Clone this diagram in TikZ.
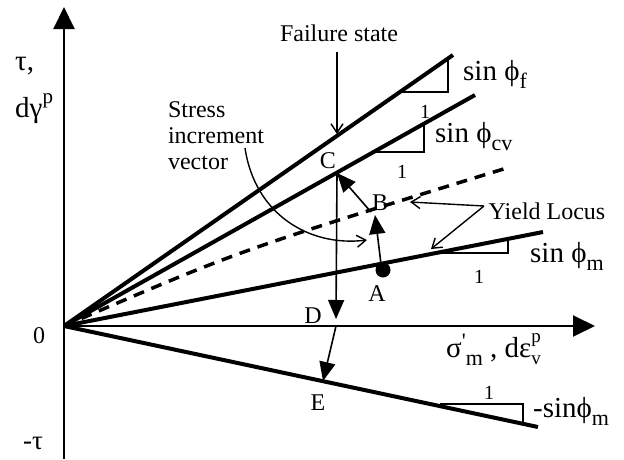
\documentclass[tikz,border=0pt]{standalone}
\usepackage{fontspec}
\setmainfont{Liberation Serif}
\usetikzlibrary{arrows.meta}
\newcommand{\fs}[1]{\fontsize{#1}{#1}\selectfont}
\newcommand{\lowsub}[1]{\raisebox{-0.28em}{\fs{22}#1}}
\begin{document}
\begin{tikzpicture}[x=1pt,y=-1pt,
  heavy/.style={line width=4pt},
  axisline/.style={line width=2pt,-{Triangle[width=21pt,length=22pt]}},
  vec/.style={line width=1.6pt,-{Triangle[width=16pt,length=19pt]}},
  leader/.style={line width=1.4pt,-{Straight Barb[width=12pt,length=9pt,line width=1.4pt]}},
  slope/.style={line width=1.5pt},
  lbl/.style={inner sep=0pt,font=\fs{24}},
  big/.style={inner sep=0pt,font=\fs{29}},
  one/.style={inner sep=0pt,font=\fs{20}}
]
\useasboundingbox (0,0) rectangle (624,459);
% key points
\coordinate (O) at (64,326);
\coordinate (Yb) at (64,459);
\coordinate (Yt) at (64,7);
\coordinate (Xt) at (595,326);
\coordinate (Fend) at (453,55);
\coordinate (CVend) at (475,95);
\coordinate (DLend) at (510,167);
\coordinate (Mend) at (543,232);
\coordinate (Eend) at (538,427);
\coordinate (C) at (337,173);
\coordinate (D) at (336,326);
\coordinate (Dt) at (336,319);
\coordinate (E) at (323,381);
\coordinate (A) at (381,264);
\coordinate (B) at (375,215);
\coordinate (Bs) at (371,212);
% axes
\draw[axisline] (Yb) -- (Yt);
\draw[axisline] (O) -- (Xt);
% lines
\draw[heavy] (O) -- (Fend);
\draw[heavy] (O) -- (CVend);
\draw[heavy] (O) -- (Mend);
\draw[heavy] (O) -- (Eend);
\draw[line width=3.5pt,dash pattern=on 11pt off 8pt] (O) .. controls (240,250) .. (DLend);
% slope triangles
\draw[slope] (400,92) -- (448,92) -- (448,58);
\draw[slope] (373,152) -- (424,152) -- (424,124);
\draw[slope] (437,253) -- (508,253) -- (508,239);
\draw[slope] (440,404) -- (523,404) -- (523,424);
\node[one] (n1) at (425,112) {1};
\node[one] (n2) at (402,172) {1};
\node[one] (n3) at (479,277) {1};
\node[one] (n4) at (489,393) {1};
% vectors
\draw[vec] (C) -- (Dt);
\draw[vec] (D) -- (E);
\draw[vec] (A) -- (B);
\draw[vec] (Bs) -- (C);
\fill (383,270) circle (7.5);
% point labels
\node[lbl] (lC) at (328,161) {C};
\node[lbl] (lB) at (380,203) {B};
\node[lbl] (lA) at (377,294) {A};
\node[lbl] (lD) at (313,316) {D};
\node[lbl] (lE) at (318,403) {E};
% failure state
\node[lbl] (fs) at (339,33) {Failure state};
\coordinate (fsA) at (337,52);
\coordinate (fsB) at (337,134);
\draw[leader] (fsA) -- (fsB);
% yield locus
\node[lbl] (yl) at (547,211) {Yield Locus};
\coordinate (yl0) at (484,206);
\coordinate (yl1) at (410,202);
\coordinate (yl2) at (431,249);
\draw[leader] (yl0) -- (yl1);
\draw[leader] (yl0) -- (yl2);
% stress increment vector
\node[lbl,align=left,font=\fontsize{24}{26}\selectfont] (siv) at (216,136) {Stress\\increment\\vector};
\coordinate (s0) at (245,148);
\coordinate (s1) at (367,240);
\draw[leader] (s0) .. controls (255,215) and (310,247) .. (s1);
% slope labels
\node[big,anchor=base west] (sf) at (463,80) {sin ϕ\lowsub{f}};
\node[big,anchor=base west] (scv) at (435,142) {sin ϕ\lowsub{cv}};
\node[big,anchor=base west] (sm) at (530,262) {sin ϕ\lowsub{m}};
\node[big,anchor=base west] (nsm) at (533,417) {-sinϕ\lowsub{m}};
% axis labels
\node[big,anchor=base west] (tau) at (15,70) {τ,};
\node[big,anchor=base west] (dg) at (15,117) {dγ\raisebox{0.45em}{\fs{21}p}};
\node[lbl,font=\fs{24}] (zero) at (39,336) {0};
\node[lbl,anchor=base west,font=\fs{27}] (mtau) at (23,449) {-τ};
\node[big,anchor=base west] (sx) at (446,357) {σ\raisebox{0.3em}{\fs{22}\textquotesingle}\lowsub{m} , dε\rlap{\raisebox{0.5em}{\fs{19}p}}\raisebox{-0.25em}{\fs{19}v}};
\end{tikzpicture}
\end{document}
